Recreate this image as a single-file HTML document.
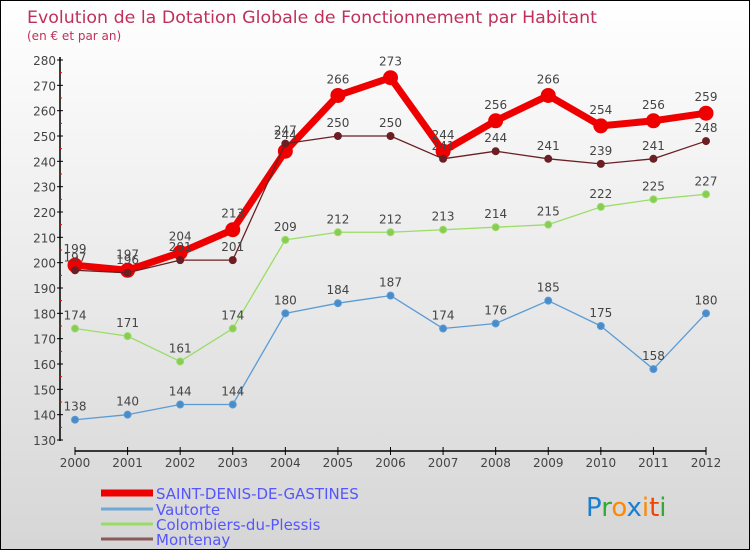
<!DOCTYPE html>
<html><head><meta charset="utf-8"><style>
html,body{margin:0;padding:0}
body{width:750px;height:550px;overflow:hidden;font-family:"DejaVu Sans","Liberation Sans",sans-serif}
#wrap{position:relative;width:748px;height:548px;border:1px solid #000;background:linear-gradient(#ffffff,#d6d6d6)}
</style></head><body>
<div id="wrap">
<svg id="chart" width="748" height="548" xmlns="http://www.w3.org/2000/svg"></svg>
</div>
<script>
const years=["2000","2001","2002","2003","2004","2005","2006","2007","2008","2009","2010","2011","2012"];
const yTicks=[130,140,150,160,170,180,190,200,210,220,230,240,250,260,270,280];
const sdg=[199,197,204,213,244,266,273,244,256,266,254,256,259];
const vautorte=[138,140,144,144,180,184,187,174,176,185,175,158,180];
const colombiers=[174,171,161,174,209,212,212,213,214,215,222,225,227];
const montenay=[197,196,201,201,247,250,250,241,244,241,239,241,248];
const seriesNames=["SAINT-DENIS-DE-GASTINES","Vautorte","Colombiers-du-Plessis","Montenay"];

const svg=document.getElementById('chart');
const NS="http://www.w3.org/2000/svg";
function X(i){return 74+i*(705-74)/(years.length-1);}
function Y(v){return 439-(v-130)*(439-59)/150;}
function mk(t,a){const e=document.createElementNS(NS,t);for(const k in a)e.setAttribute(k,a[k]);svg.appendChild(e);return e;}
function txt(x,y,s,a){const e=mk('text',Object.assign({x:x,y:y},a));e.textContent=s;return e;}

let t=txt(26,22,"Evolution de la Dotation Globale de Fonctionnement par Habitant",{fill:"#c0305a","font-size":"17","textLength":"570","lengthAdjust":"spacingAndGlyphs"});


t=txt(26,39,"(en € et par an)",{fill:"#c0305a","font-size":"12"});



let ya=mk('line',{x1:59,y1:56,x2:59,y2:440,stroke:"#000","stroke-width":1.5});


yTicks.forEach((v,i)=>{
  mk('line',{x1:56,y1:Y(v),x2:62,y2:Y(v),stroke:"#000"});
  if(i<yTicks.length-1){mk('line',{x1:58,y1:Y(v+5),x2:61,y2:Y(v+5),stroke:"#e00"});}
  const l=txt(55,Y(v)+5,String(v),{fill:"#444","font-size":"12","text-anchor":"end"});
  
  
});
let xa=mk('line',{x1:74,y1:450,x2:705,y2:450,stroke:"#000","stroke-width":1.5});


years.forEach((y,i)=>{
  mk('line',{x1:X(i),y1:446,x2:X(i),y2:454,stroke:"#000"});
  const l=txt(X(i),466,y,{fill:"#444","font-size":"12","text-anchor":"middle"});
  
  
});

function series(data,color,dot,w,r,name,labelDy){
  const pts=data.map((v,i)=>X(i)+","+Y(v)).join(" ");
  const p=mk('polyline',{points:pts,fill:"none",stroke:color,"stroke-width":w,"stroke-linejoin":"round"});
  
  
  data.forEach((v,i)=>{
    const c=mk('circle',{cx:X(i),cy:Y(v),r:r,fill:dot,stroke:color,"stroke-width":1});
    
    
    const l=txt(X(i),Y(v)-labelDy,String(v),{fill:"#444","font-size":"12","text-anchor":"middle"});
    
    
  });
}
series(vautorte,"#5b9bd5","#4a8cc8",1.3,3.5,"vautorte",9);
series(colombiers,"#99dd66","#88cc55",1.3,3.5,"colombiers",9);
series(sdg,"#ee0000","#ee0000",7,7,"saint-denis",12);
series(montenay,"#6b1f24","#6b1f24",1.3,3.5,"montenay",9);

const lc=["#ee0000","#6fa8d6","#99dd66","#8b5a5a"];
const lw=[7,3,3,3];
const ly=[492,508,523,538];
seriesNames.forEach((n,i)=>{
  const ln=mk('line',{x1:100,y1:ly[i],x2:152,y2:ly[i],stroke:lc[i],"stroke-width":lw[i]});
  
  
  const l=txt(155,ly[i]+6,n,{fill:"#5555ff","font-size":"15"});
  
  
});
const logo=txt(585,515,"",{"font-size":"26"});


[["P","#1a7fd0"],["r","#33aa33"],["o","#ff8800"],["x","#1a7fd0"],["i","#ff8800"],["t","#ee4400"],["i","#33aa33"]].forEach(a=>{
  const s=document.createElementNS(NS,'tspan');s.setAttribute('fill',a[1]);s.textContent=a[0];logo.appendChild(s);
});
</script>
</body></html>
